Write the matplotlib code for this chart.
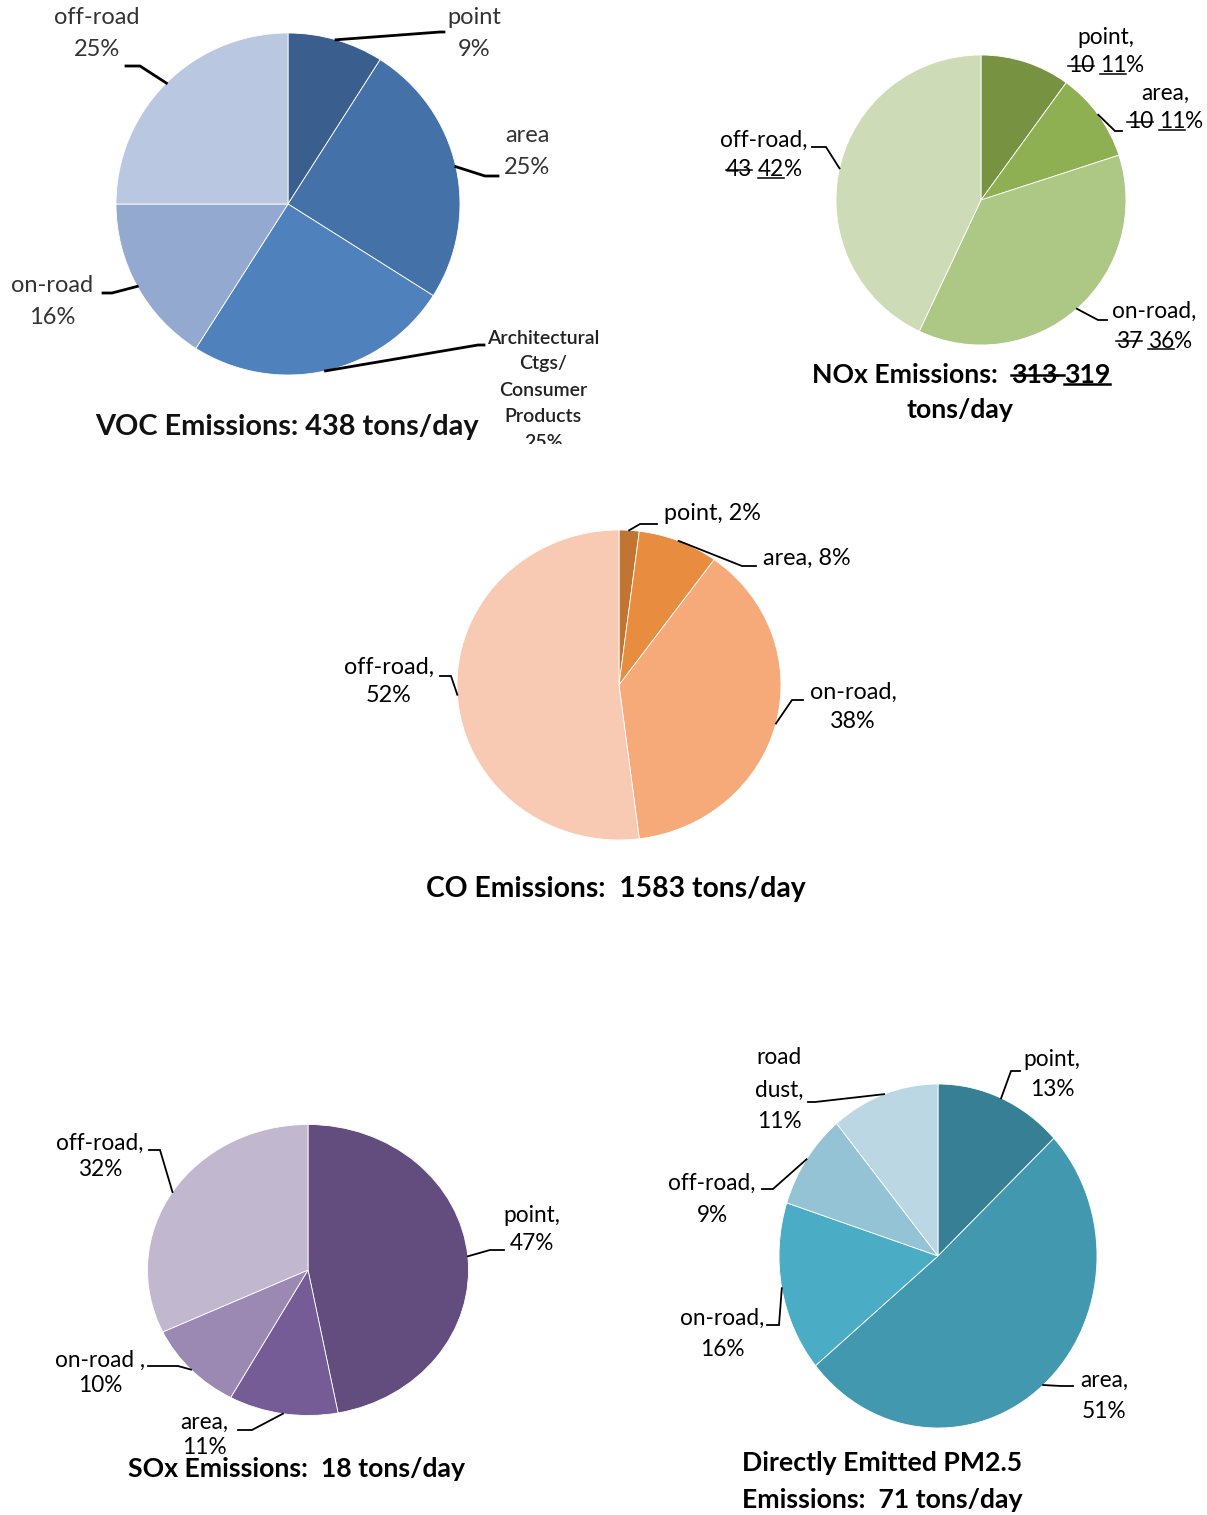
import matplotlib
matplotlib.use('Agg')
import matplotlib.pyplot as plt
from matplotlib.lines import Line2D
from matplotlib.patches import Rectangle
import numpy as np

plt.rcParams['font.family'] = ['Lato', 'DejaVu Sans']

# ---------------- data ----------------
voc_labels = ['point', 'area', 'Architectural Ctgs/ Consumer Products', 'on-road', 'off-road']
voc_values = [9, 25, 25, 16, 25]
voc_total = 438

nox_labels = ['point', 'area', 'on-road', 'off-road']
nox_values = [10, 10, 37, 43]          # plotted (original) shares
nox_revised = [11, 11, 36, 42]         # revised shares (underlined)
nox_total_old = 313
nox_total = 319

co_labels = ['point', 'area', 'on-road', 'off-road']
co_values = [2, 8, 38, 52]
co_total = 1583

sox_labels = ['point', 'area', 'on-road', 'off-road']
sox_values = [47, 11, 10, 32]
sox_total = 18

pm_labels = ['point', 'area', 'on-road', 'off-road', 'road dust']
pm_values = [13, 51, 16, 9, 11]
pm_total = 71

# ---------------- styles ----------------
voc_colors = ['#3A5F8F', '#4472A8', '#4F81BD', '#94A9D0', '#BAC7E0']
nox_colors = ['#779342', '#8FB052', '#ADC785', '#CDDBB7']
co_colors = ['#C27532', '#E88D40', '#F7AA79', '#F8CAB3']
sox_colors = ['#624D7E', '#765C97', '#9B88B3', '#C1B7CF']
pm_colors = ['#367F94', '#4298AF', '#4BACC6', '#93C3D5', '#BAD7E3']

LBL = 16.3
TTL = 19.2

W, H = 1207, 1515
fig = plt.figure(figsize=(W / 100, H / 100), dpi=100)
fig.patch.set_facecolor('white')
renderer = fig.canvas.get_renderer()


def fx(x):
    return x / W


def fy(y):
    return 1 - y / H


def draw_pie(cx, cy, rx, ry, values, colors):
    ax = fig.add_axes([(cx - rx) / W, 1 - (cy + ry) / H, 2 * rx / W, 2 * ry / H])
    ax.pie(values, colors=colors, startangle=90, counterclock=False,
           wedgeprops=dict(edgecolor='white', linewidth=0.6))
    ax.set_xlim(-1, 1)
    ax.set_ylim(-1, 1)
    ax.set_aspect('auto')
    ax.axis('off')
    fr = np.array(values, dtype=float) / np.sum(values)
    mids = np.radians((np.cumsum(fr) - fr / 2) * 360)
    return [(cx + rx * np.sin(m), cy - ry * np.cos(m)) for m in mids]


def leader(anchor, elbow, end, lw=1.3):
    xs = [fx(anchor[0]), fx(elbow[0]), fx(end[0])]
    ys = [fy(anchor[1]), fy(elbow[1]), fy(end[1])]
    fig.add_artist(Line2D(xs, ys, transform=fig.transFigure, color='black', lw=lw,
                          solid_joinstyle='miter'))


def txt(x, y, s, size, weight='normal', color='black', ha='center'):
    return fig.text(fx(x), fy(y), s, ha=ha, va='center', fontsize=size,
                    fontweight=weight, color=color)


def label(lines, cx, y0, step, size=LBL, color='black', weight='normal'):
    out = []
    for i, s in enumerate(lines):
        out.append(txt(cx, y0 + i * step, s, size, weight, color))
    return out


def rich(cx, y, segs, size, weight='normal', color='black'):
    t1 = fig.text(0, 0, 'a a', fontsize=size, fontweight=weight)
    t2 = fig.text(0, 0, 'aa', fontsize=size, fontweight=weight)
    sw = t1.get_window_extent(renderer).width - t2.get_window_extent(renderer).width
    t1.remove(); t2.remove()
    items = []
    ref = None
    for s, deco in segs:
        if s.strip() == '':
            items.append((None, sw * len(s), deco))
        else:
            t = fig.text(0, fy(y), s, ha='left', va='center', fontsize=size,
                         fontweight=weight, color=color)
            bb = t.get_window_extent(renderer)
            if ref is None:
                ref = bb
            items.append((t, bb.width, deco))
    total = sum(w for _, w, _ in items)
    x = cx - total / 2
    lw = 1.8 if weight == 'bold' else 1.1
    for t, w, deco in items:
        if t is not None:
            t.set_x(fx(x))
        if deco is not None:
            if deco == 'strike':
                ly = ref.y0 + 0.50 * ref.height
            else:
                ly = ref.y0 + 0.13 * ref.height
            fig.add_artist(Line2D([x / W, (x + w) / W], [ly / H, ly / H],
                                  transform=fig.transFigure, color=color, lw=lw))
        x += w


# ================= VOC =================
a = draw_pie(288, 204, 172, 171, voc_values, voc_colors)
vcol = '#333333'
label([voc_labels[0], f'{voc_values[0]}%'], 474, 18, 32, 17, vcol)
label([voc_labels[1], f'{voc_values[1]}%'], 527, 136, 31, 17, vcol)
label(['Architectural', 'Ctgs/', 'Consumer', 'Products', f'{voc_values[2]}%'],
      543, 338, 26, 14, '#222222', 'semibold')
# the chart area cuts the last line of this label
fig.add_artist(Rectangle((fx(480), fy(462)), 130 / W, 18 / H, transform=fig.transFigure,
                         facecolor='white', edgecolor='none', zorder=20))
label([voc_labels[3], f'{voc_values[3]}%'], 52, 285, 32, 17, vcol)
label([voc_labels[4], f'{voc_values[4]}%'], 97, 18, 32, 17, vcol)
leader(a[0], (440, 32), (444, 32), 2)
leader(a[1], (485, 176), (498, 176), 2)
leader(a[2], (478, 345), (484, 345), 2)
leader(a[3], (112, 293), (103, 293), 2)
leader(a[4], (140, 66), (126, 66), 2)
txt(287, 427, f'VOC Emissions: {voc_total} tons/day', 20.8, 'bold', '#111111')

# ================= NOx =================
a = draw_pie(981, 200, 145, 145, nox_values, nox_colors)
nox_pos = [(1106, 38, 28), (1165, 93, 29), (1154, 311, 30), (764, 140, 30)]
for i, (cx, y0, st) in enumerate(nox_pos):
    txt(cx, y0, f'{nox_labels[i]},', LBL)
    rich(cx, y0 + st, [(f'{nox_values[i]}', 'strike'), (' ', None),
                       (f'{nox_revised[i]}', 'under'), ('%', None)], LBL)
leader(a[1], (1115, 131), (1122, 131))
leader(a[2], (1098, 320), (1107, 320))
leader(a[3], (826, 147), (812, 147))
rich(961, 375, [('NOx Emissions:', None), ('  ', None), (f'{nox_total_old}', 'strike'),
                (' ', 'strike'), (f'{nox_total}', 'under')], TTL, 'bold')
txt(960, 410, 'tons/day', TTL, 'bold')

# ================= CO =================
a = draw_pie(619, 685, 162, 155, co_values, co_colors)
label([f'{co_labels[0]}, {co_values[0]}%'], 712, 513, 29, 16.8)
label([f'{co_labels[1]}, {co_values[1]}%'], 807, 558, 29, 16.8)
label([f'{co_labels[2]},', f'{co_values[2]}%'], 853, 692, 29, 16.8)
label([f'{co_labels[3]},', f'{co_values[3]}%'], 389, 667, 29, 16.8)
leader(a[0], (640, 524), (657, 524))
leader(a[1], (742, 566), (756, 566))
leader(a[2], (792, 700), (803, 700))
leader(a[3], (451, 676), (440, 676))
txt(616, 889, f'CO Emissions:  {co_total} tons/day', 20.3, 'bold')

# ================= SOx =================
a = draw_pie(308, 1270, 160.5, 145.5, sox_values, sox_colors)
label([f'{sox_labels[0]},', f'{sox_values[0]}%'], 532, 1216, 27)
label([f'{sox_labels[1]},', f'{sox_values[1]}%'], 204, 1422, 25)
label([f'{sox_labels[2]} ,', f'{sox_values[2]}%'], 100, 1360, 26)
label([f'{sox_labels[3]},', f'{sox_values[3]}%'], 100, 1143, 26)
leader(a[0], (490, 1250), (504, 1250))
leader(a[1], (252, 1430), (238, 1430))
leader(a[2], (178, 1366), (148, 1366))
leader(a[3], (160, 1150), (149, 1150))
txt(296, 1469, f'SOx Emissions:  {sox_total} tons/day', TTL, 'bold')

# ================= PM2.5 =================
a = draw_pie(938, 1256, 159, 172, pm_values, pm_colors)
label([f'{pm_labels[0]},', f'{pm_values[0]}%'], 1052, 1059, 31)
label([f'{pm_labels[1]},', f'{pm_values[1]}%'], 1104, 1380, 31)
label([f'{pm_labels[2]},', f'{pm_values[2]}%'], 722, 1318, 32)
label([f'{pm_labels[3]},', f'{pm_values[3]}%'], 712, 1183, 32)
label(['road', 'dust,', f'{pm_values[4]}%'], 779, 1058, 32)
leader(a[0], (1011, 1071), (1020, 1071))
leader(a[1], (1061, 1386), (1073, 1386))
leader(a[2], (779, 1325), (767, 1325))
leader(a[3], (773, 1189), (762, 1189))
leader(a[4], (815, 1102), (808, 1102))
txt(882, 1463, 'Directly Emitted PM2.5', TTL, 'bold')
txt(882, 1500, f'Emissions:  {pm_total} tons/day', TTL, 'bold')

fig.savefig('out.png', dpi=100, facecolor='white')
